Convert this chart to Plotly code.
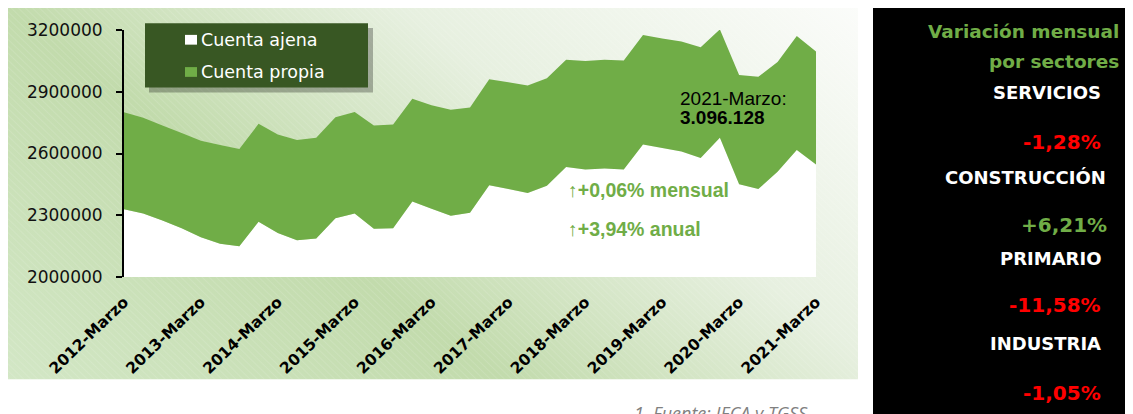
import base64
import plotly.graph_objects as go

# ---------------- data ----------------
categories = [
    "2012-Marzo", "2012-Junio", "2012-Septiembre", "2012-Diciembre",
    "2013-Marzo", "2013-Junio", "2013-Septiembre", "2013-Diciembre",
    "2014-Marzo", "2014-Junio", "2014-Septiembre", "2014-Diciembre",
    "2015-Marzo", "2015-Junio", "2015-Septiembre", "2015-Diciembre",
    "2016-Marzo", "2016-Junio", "2016-Septiembre", "2016-Diciembre",
    "2017-Marzo", "2017-Junio", "2017-Septiembre", "2017-Diciembre",
    "2018-Marzo", "2018-Junio", "2018-Septiembre", "2018-Diciembre",
    "2019-Marzo", "2019-Junio", "2019-Septiembre", "2019-Diciembre",
    "2020-Marzo", "2020-Junio", "2020-Septiembre", "2020-Diciembre",
    "2021-Marzo",
]
cuenta_ajena = [
    2329000, 2309000, 2274000, 2237000, 2193000, 2161000, 2150000, 2269000,
    2214000, 2178000, 2187000, 2285000, 2309000, 2235000, 2237000, 2367000,
    2332000, 2298000, 2312000, 2446000, 2427000, 2408000, 2443000, 2535000,
    2522000, 2527000, 2522000, 2644000, 2627000, 2610000, 2578000, 2677000,
    2451000, 2427000, 2511000, 2617000, 2546000,
]
cuenta_propia = [
    472000, 465000, 462000, 462000, 469000, 480000, 472000, 475000,
    478000, 487000, 490000, 491000, 493000, 501000, 504000, 499000,
    502000, 514000, 511000, 515000, 519000, 522000, 523000, 521000,
    527000, 529000, 530000, 532000, 532000, 534000, 538000, 526000,
    530000, 546000, 533000, 554000, 550128,
]
tick_labels = [
    "2012-Marzo", "2013-Marzo", "2014-Marzo", "2015-Marzo", "2016-Marzo",
    "2017-Marzo", "2018-Marzo", "2019-Marzo", "2020-Marzo", "2021-Marzo",
]
y_ticks = [2000000, 2300000, 2600000, 2900000, 3200000]
sectores = ["SERVICIOS", "CONSTRUCCIÓN", "PRIMARIO", "INDUSTRIA"]
variaciones = ["-1,28%", "+6,21%", "-11,58%", "-1,05%"]

# ---------------- geometry helpers ----------------
# the page body has an 8px margin, so the figure is 8px smaller than the window
OFF = 8
W, H = 1133 - OFF, 414 - OFF
# plot area in window pixels
PL, PR, PT, PB = 124, 816, 24, 277


def px(x):
    return (x - PL) / (PR - PL)


def py(y):
    return (PB - y) / (PB - PT)


GREEN = "#70ad47"
DARK = "#385723"

fig = go.Figure()
fig.add_trace(go.Scatter(
    x=categories, y=cuenta_ajena, name="Cuenta ajena", stackgroup="one",
    mode="none", fillcolor="#ffffff", line=dict(width=0), showlegend=False,
))
fig.add_trace(go.Scatter(
    x=categories, y=cuenta_propia, name="Cuenta propia", stackgroup="one",
    mode="none", fillcolor=GREEN, line=dict(width=0), showlegend=False,
))

# background gradient panel (svg data uri)
svg = (
    '<svg xmlns="http://www.w3.org/2000/svg" width="856" height="382" '
    'viewBox="0 0 856 382" preserveAspectRatio="none">'
    '<defs><linearGradient id="g" gradientUnits="userSpaceOnUse" '
    'x1="0" y1="382" x2="503" y2="-273">'
    '<stop offset="0" stop-color="#d3e7c6"/>'
    '<stop offset="0.37" stop-color="#c2dbac"/>'
    '<stop offset="0.66" stop-color="#e7f0e0"/>'
    '<stop offset="1" stop-color="#fbfcfa"/>'
    '</linearGradient>'
    '<pattern id="h" width="5" height="5" patternUnits="userSpaceOnUse" '
    'patternTransform="rotate(-45)">'
    '<line x1="0" y1="0" x2="0" y2="5" stroke="#ffffff" stroke-width="1" '
    'stroke-opacity="0.22"/></pattern></defs>'
    '<rect width="856" height="382" fill="url(#g)"/>'
    '<rect width="856" height="382" fill="url(#h)"/></svg>'
)
src = "data:image/svg+xml;base64," + base64.b64encode(svg.encode("utf-8")).decode()
fig.add_layout_image(dict(
    source=src, xref="paper", yref="paper", x=px(2), y=py(0),
    sizex=px(858) - px(2), sizey=py(0) - py(382),
    xanchor="left", yanchor="top", sizing="stretch", layer="below",
))

shapes = []
# black right panel
shapes.append(dict(type="rect", xref="paper", yref="paper",
                   x0=px(873), x1=px(1140), y0=py(420), y1=py(0),
                   fillcolor="#000000", line=dict(width=0)))
# legend box with shadow
shapes.append(dict(type="rect", xref="paper", yref="paper",
                   x0=px(149), x1=px(373), y0=py(88), y1=py(22),
                   fillcolor="rgba(0,0,0,0.28)", line=dict(width=0)))
shapes.append(dict(type="rect", xref="paper", yref="paper",
                   x0=px(145), x1=px(368), y0=py(83), y1=py(17),
                   fillcolor=DARK, line=dict(width=0)))
shapes.append(dict(type="rect", xref="paper", yref="paper",
                   x0=px(185), x1=px(197), y0=py(39), y1=py(29),
                   fillcolor="#ffffff", line=dict(width=0)))
shapes.append(dict(type="rect", xref="paper", yref="paper",
                   x0=px(185), x1=px(197), y0=py(72), y1=py(62),
                   fillcolor=GREEN, line=dict(width=0)))

ann = []


def add_text(text, x, y, size, color, family="DejaVu Sans", xanchor="left",
             yanchor="middle"):
    ann.append(dict(text=text, xref="paper", yref="paper", x=px(x), y=py(y),
                    xanchor=xanchor, yanchor=yanchor, showarrow=False,
                    font=dict(size=size, color=color, family=family)))


# legend texts
add_text("Cuenta ajena", 199, 34, 17.5, "#ffffff")
add_text("Cuenta propia", 199, 67, 17.5, "#ffffff")

# chart annotations
add_text("2021-Marzo:", 678, 94, 19, "#000000", "Liberation Sans")
add_text("<b>3.096.128</b>", 678, 114, 19, "#000000", "Liberation Sans")
add_text("<b>↑+0,06% mensual</b>", 566, 188, 19.5, GREEN, "Liberation Sans")
add_text("<b>↑+3,94% anual</b>", 566, 228, 19.5, GREEN, "Liberation Sans")

# right panel
add_text("<b>Variación mensual</b>", 1121, 26, 18.5, GREEN, xanchor="right")
add_text("<b>por sectores</b>", 1121, 56, 18.5, GREEN, xanchor="right")
name_y = [88, 175, 258, 345]
val_y = [139, 224, 306, 396]
name_r = [1103, 1108, 1103, 1103]
val_r = [1103, 1109, 1103, 1103]
for s, v, ny, vy, nr, vr in zip(sectores, variaciones, name_y, val_y, name_r, val_r):
    add_text(f"<b>{s}</b>", nr, ny, 18, "#ffffff", xanchor="right")
    col = GREEN if v.startswith("+") else "#ff0000"
    add_text(f"<b>{v}</b>", vr, vy, 20, col, xanchor="right")

# source
add_text("<i>1. Fuente: IECA y TGSS</i>", 632, 402, 18, "#808080",
         family="Open Sans", yanchor="top")

fig.update_layout(
    width=W, height=H,
    margin=dict(l=PL - OFF, r=W - (PR - OFF), t=PT - OFF, b=H - (PB - OFF), pad=0),
    paper_bgcolor="#ffffff", plot_bgcolor="rgba(0,0,0,0)",
    shapes=shapes, annotations=ann, showlegend=False,
    xaxis=dict(
        type="category", range=[0, len(categories) - 1],
        tickmode="array", tickvals=tick_labels, ticktext=tick_labels,
        tickangle=-44, showgrid=False, showline=False, zeroline=False,
        ticks="", ticklabelstandoff=12,
        tickfont=dict(family="DejaVu Sans", size=15.5, color="#000000",
                      weight="bold"),
    ),
    yaxis=dict(
        range=[2000000, 3200000], tickvals=y_ticks, tickformat="d",
        showgrid=False, zeroline=False, showline=True, linecolor="#000000",
        linewidth=2, ticks="outside", ticklen=6, tickwidth=2,
        tickcolor="#000000", ticklabelstandoff=10,
        tickfont=dict(family="DejaVu Sans", size=17, color="#111111"),
    ),
)

fig.write_html("out.html")
